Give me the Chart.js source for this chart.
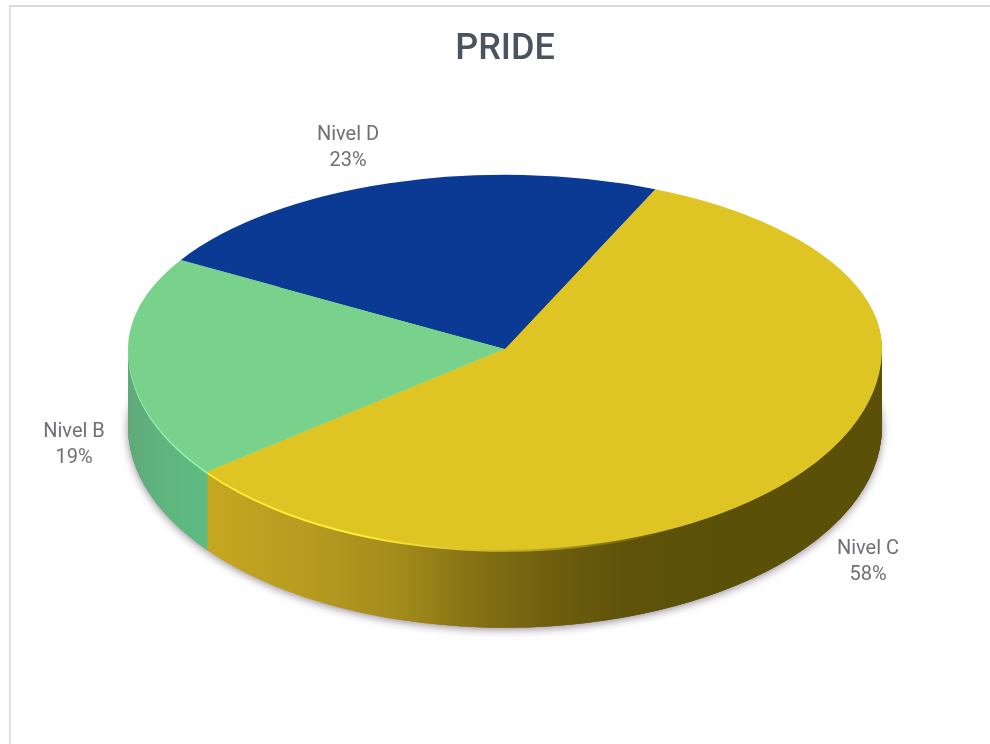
<!DOCTYPE html>
<html>
<head>
<meta charset="utf-8">
<style>
html,body{margin:0;padding:0;background:#fff;width:990px;height:744px;overflow:hidden}
#wrap{position:relative;width:990px;height:744px}
#frame{position:absolute;left:9px;top:5px;right:0;bottom:0;border-left:2px solid #e0e0e0;border-top:2px solid #d8d8d8;pointer-events:none}
canvas{position:absolute;left:0;top:0}
</style>
<script src="https://cdn.jsdelivr.net/npm/chart.js@4"></script>
</head>
<body>
<div id="wrap"><canvas id="c" width="990" height="744"></canvas><div id="frame"></div></div>
<script>
const titleText = 'PRIDE';
const categories = ['Nivel C', 'Nivel B', 'Nivel D'];
const seriesValues = [58, 19, 23];
const topColors = ['#dfc524', '#79d28c', '#0a3a94'];

const pie3d = {
  id: 'pie3d',
  beforeDatasetDraw(chart) {
    const o = chart.options.plugins.pie3d;
    const ctx = chart.ctx;
    const arcs = chart.getDatasetMeta(0).data;
    const cy = arcs[0].y, R = arcs[0].outerRadius;
    const su = o.upperHeight / R, sl = o.lowerHeight / R;

    const hGrad = stops => {
      const g = ctx.createLinearGradient(arcs[0].x - R, 0, arcs[0].x + R, 0);
      stops.forEach(s => g.addColorStop(s[0], s[1]));
      return g;
    };
    const paint = (arc, fill, scale, d, part, extra, overlap) => {
      const real = arc.options;
      const tmp = Object.create(real);
      tmp.backgroundColor = fill;
      ctx.save();
      ctx.beginPath();
      if (part === 'lower') ctx.rect(0, cy + d, chart.width, chart.height);
      else ctx.rect(0, 0, chart.width, cy + d + (overlap || 0));
      ctx.clip();
      if (extra) Object.assign(ctx, extra);
      ctx.translate(0, cy + d);
      ctx.scale(1, scale);
      ctx.translate(0, -cy);
      arc.options = tmp;
      arc.draw(ctx);
      arc.options = real;
      ctx.restore();
    };

    const sideC = hGrad([[0, '#cdae20'], [0.12, '#c4a620'], [0.25, '#b59a20'], [0.36, '#a38b1b'], [0.46, '#857114'], [0.56, '#6e5e0e'], [0.66, '#5f530a'], [0.78, '#5a5008'], [1, '#5a5008']]);
    const sideB = hGrad([[0, '#62a87a'], [0.04, '#5fb47e'], [0.1, '#5dbb80'], [1, '#5dbb80']]);
    const sides = [sideC, sideB, '#0a2a6a'];

    const shadow = { shadowColor: 'rgba(70,50,70,0.55)', shadowBlur: 9, shadowOffsetX: 0, shadowOffsetY: 2 };
    arcs.forEach((arc, i) => {
      paint(arc, sides[i], sl, o.depth, 'lower', shadow);
      paint(arc, sides[i], su, o.depth, 'upper', shadow);
    });
    for (let d = o.depth; d >= 0; d--) {
      arcs.forEach((arc, i) => paint(arc, sides[i], sl, d, 'lower'));
    }
    // light rim along the front edge, dark rim along the far right edge
    const rimC = hGrad([[0, '#fff13a'], [0.3, '#fff13a'], [0.55, 'rgba(240,225,50,0.5)'], [0.72, 'rgba(240,225,50,0)'], [1, 'rgba(240,225,50,0)']]);
    const rimB = hGrad([[0, '#96f2ac'], [1, '#96f2ac']]);
    paint(arcs[0], rimC, sl, 2, 'lower');
    paint(arcs[1], rimB, sl, 2, 'lower');
    const rimDark = hGrad([[0, 'rgba(90,80,10,0)'], [0.82, 'rgba(90,80,10,0)'], [0.93, 'rgba(90,80,10,0.9)'], [1, 'rgba(90,80,10,1)']]);
    paint(arcs[0], rimDark, su, 1.5, 'upper');
    paint(arcs[0], rimDark, sl, 1.5, 'lower');

    // top face: lower part first, upper part overlaps the seam by a pixel
    arcs.forEach((arc, i) => paint(arc, topColors[i], sl, 0, 'lower'));
    arcs.forEach((arc, i) => paint(arc, topColors[i], su, 0, 'upper', null, 1));
    return false;
  },
  afterDraw(chart) {
    const o = chart.options.plugins.pie3d;
    const ctx = chart.ctx;
    ctx.save();
    ctx.font = o.labelFont;
    ctx.fillStyle = o.labelColor;
    ctx.textAlign = 'center';
    ctx.textBaseline = 'middle';
    categories.forEach((name, i) => {
      const a = o.labelAnchors[i];
      ctx.fillText(name, a.x, a.y);
      ctx.fillText(seriesValues[i] + '%', a.x, a.y + o.labelLeading);
    });
    ctx.restore();
  }
};

new Chart(document.getElementById('c'), {
  type: 'pie',
  data: {
    labels: categories,
    datasets: [{ data: seriesValues, backgroundColor: topColors, borderWidth: 0 }]
  },
  options: {
    responsive: false,
    animation: false,
    rotation: 23.5,
    radius: 377,
    layout: { padding: { left: 20, right: 0, top: 0, bottom: 117.6 } },
    plugins: {
      legend: { display: false },
      tooltip: { enabled: false },
      title: {
        display: true,
        text: titleText,
        fullSize: false,
        color: '#4b5361',
        font: { family: 'Roboto', size: 36, weight: '500', lineHeight: 1.2 },
        padding: { top: 28, bottom: 0 }
      },
      pie3d: {
        upperHeight: 174,
        lowerHeight: 201,
        depth: 78,
        labelFont: '400 20px Roboto',
        labelColor: '#6f7075',
        labelLeading: 26,
        labelAnchors: [{ x: 868, y: 549 }, { x: 74, y: 432 }, { x: 348, y: 135 }]
      }
    }
  },
  plugins: [pie3d]
});
</script>
</body>
</html>
